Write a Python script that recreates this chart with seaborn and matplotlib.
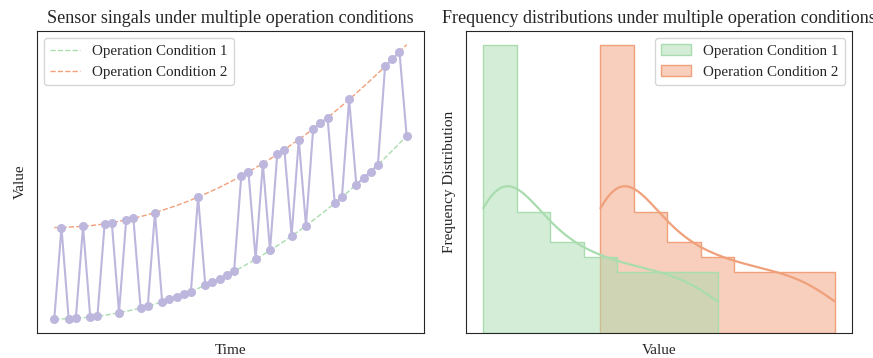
import numpy as np
import pandas as pd
import matplotlib
matplotlib.use("Agg")
import matplotlib.pyplot as plt
import seaborn as sns

# Sensor readings sampled at 50 time steps
time_steps = list(range(50))

# Baseline response under operation condition 1
cond1_values = [
    0.0, 0.0, 0.2, 0.4, 0.7, 1.0, 1.5, 2.0, 2.7, 3.4,
    4.2, 5.0, 6.0, 7.0, 8.2, 9.4, 10.7, 12.0, 13.5, 15.0,
    16.7, 18.4, 20.2, 22.0, 24.0, 26.0, 28.2, 30.4, 32.7, 35.0,
    37.5, 40.0, 42.6, 45.4, 48.1, 51.0, 54.0, 57.0, 60.1, 63.3,
    66.6, 70.0, 73.5, 77.0, 80.6, 84.3, 88.1, 92.0, 96.0, 100.0,
]

# Response under operation condition 2
cond2_values = [
    50.0, 50.0, 50.2, 50.4, 50.7, 51.0, 51.5, 52.0, 52.7, 53.4,
    54.2, 55.0, 56.0, 57.0, 58.2, 59.4, 60.7, 62.0, 63.5, 65.0,
    66.7, 68.4, 70.2, 72.0, 74.0, 76.0, 78.2, 80.4, 82.7, 85.0,
    87.5, 90.0, 92.6, 95.4, 98.1, 101.0, 104.0, 107.0, 110.1, 113.3,
    116.6, 120.0, 123.5, 127.0, 130.6, 134.3, 138.1, 142.0, 146.0, 150.0,
]

# Active operation condition at each time step
active_condition = [
    1, 2, 1, 1, 2, 1, 1, 2, 2, 1,
    2, 2, 1, 1, 2, 1, 1, 1, 1, 1,
    2, 1, 1, 1, 1, 1, 2, 2, 1, 2,
    1, 2, 2, 1, 2, 1, 2, 2, 2, 1,
    1, 2, 1, 1, 1, 1, 2, 2, 2, 1,
]

condition_names = ["Operation Condition 1", "Operation Condition 2"]
green = "#a9dcae"
orange = "#f0a07a"
purple = "#bdb6dd"

sns.set_style("white")
plt.rcParams["font.family"] = ["Liberation Serif", "DejaVu Serif"]

signal = [cond1_values[i] if c == 1 else cond2_values[i]
          for i, c in enumerate(active_condition)]

curves = pd.DataFrame({
    "Time": time_steps * 2,
    "Value": cond1_values + cond2_values,
    "Condition": [condition_names[0]] * len(time_steps) + [condition_names[1]] * len(time_steps),
})
sensor = pd.DataFrame({"Time": time_steps, "Value": signal})

fig = plt.figure(figsize=(8.73, 3.58), dpi=100)
ax1 = fig.add_axes([0.042, 0.0707, 0.444, 0.843])
ax2 = fig.add_axes([0.5334, 0.0707, 0.443, 0.843])

# Left panel: the two condition curves and the switching sensor signal
sns.lineplot(data=curves, x="Time", y="Value", hue="Condition",
             palette=[green, orange], linestyle="--", linewidth=1.0, ax=ax1)
sns.lineplot(data=sensor, x="Time", y="Value", color=purple, linewidth=1.5,
             marker="o", markersize=6.5, markeredgewidth=0, legend=False, ax=ax1)
ax1.legend(loc="upper left", fontsize=10.8)
ax1.set_title("Sensor singals under multiple operation conditions", fontsize=13.1)
ax1.set_xlabel("Time", fontsize=11, labelpad=8)
ax1.set_ylabel("Value", fontsize=11, labelpad=7)
ax1.set_xticks([])
ax1.set_yticks([])

# Right panel: value histograms per condition with KDE
values = pd.DataFrame({
    "Value": cond1_values + cond2_values,
    "Condition": [condition_names[0]] * 50 + [condition_names[1]] * 50,
})
sns.histplot(data=values, x="Value", hue="Condition", bins=7, common_bins=False,
             element="step", kde=True, alpha=0.5, palette=[green, orange],
             line_kws={"linewidth": 1.6}, ax=ax2)
sns.move_legend(ax2, "upper right", title=None, fontsize=10.8)
ax2.set_title("Frequency distributions under multiple operation conditions", fontsize=13.1)
ax2.set_xlabel("Value", fontsize=11, labelpad=8)
ax2.set_ylabel("Frequency Distribution", fontsize=11, labelpad=7)
ax2.set_xticks([])
ax2.set_yticks([])

fig.savefig("out.png", dpi=100)
